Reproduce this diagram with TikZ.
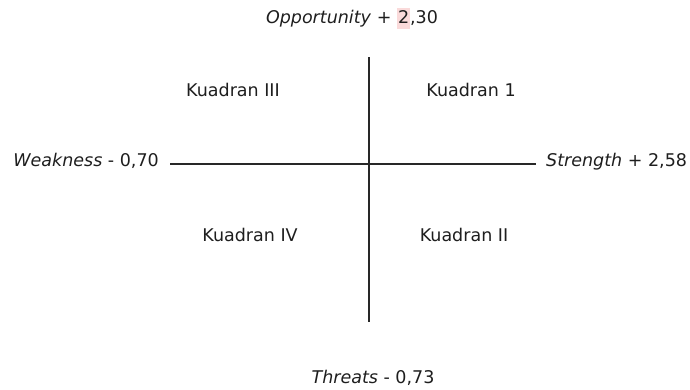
\documentclass[tikz,border=0pt]{standalone}
\usepackage{xcolor}
\usepackage{fontspec}
\setmainfont{DejaVu Sans}
\usepackage{tikz}
\usetikzlibrary{positioning, calc}
\definecolor{swotline}{RGB}{40, 40, 40}
\definecolor{swottext}{RGB}{30, 30, 30}
\definecolor{swotmark}{RGB}{250, 218, 218}

\begin{document}
\begin{tikzpicture}[
  x=1pt, y=-1pt,
  axis/.style={draw=swotline, line width=1.3pt},
  lbl/.style={inner sep=0pt, text=swottext, font=\fontsize{17.5}{20}\selectfont},
  quad/.style={lbl, anchor=base},
]
  \useasboundingbox (0,0) rectangle (690,389);

  % Axis ends
  \coordinate (top) at (369,57);
  \coordinate (bottom) at (369,322);
  \coordinate (left) at (170,164);
  \coordinate (right) at (536,164);

  % Axis labels
  \node[lbl, anchor=base] (opp) at (352,23)
    {\textit{Opportunity} + {\setlength{\fboxsep}{1pt}\colorbox{swotmark}{\rule[-5pt]{0pt}{19pt}2}},30};
  \node[lbl, anchor=base east] (weak) at ([xshift=-11pt, yshift=-2pt]left) {\textit{Weakness} - 0,70};
  \node[lbl, anchor=base west] (str) at ([xshift=10pt, yshift=-2pt]right) {\textit{Strength} + 2,58};
  \node[lbl, anchor=base] (thr) at (373,383) {\textit{Threats} - 0,73};

  % Quadrants
  \node[quad] (q3) at (233,96) {Kuadran III};
  \node[quad] (q1) at (471,96) {Kuadran 1};
  \node[quad] (q4) at (250,241) {Kuadran IV};
  \node[quad] (q2) at (464,241) {Kuadran II};

  \draw[axis] (left) -- (right);
  \draw[axis] (top) -- (bottom);
\end{tikzpicture}
\end{document}
